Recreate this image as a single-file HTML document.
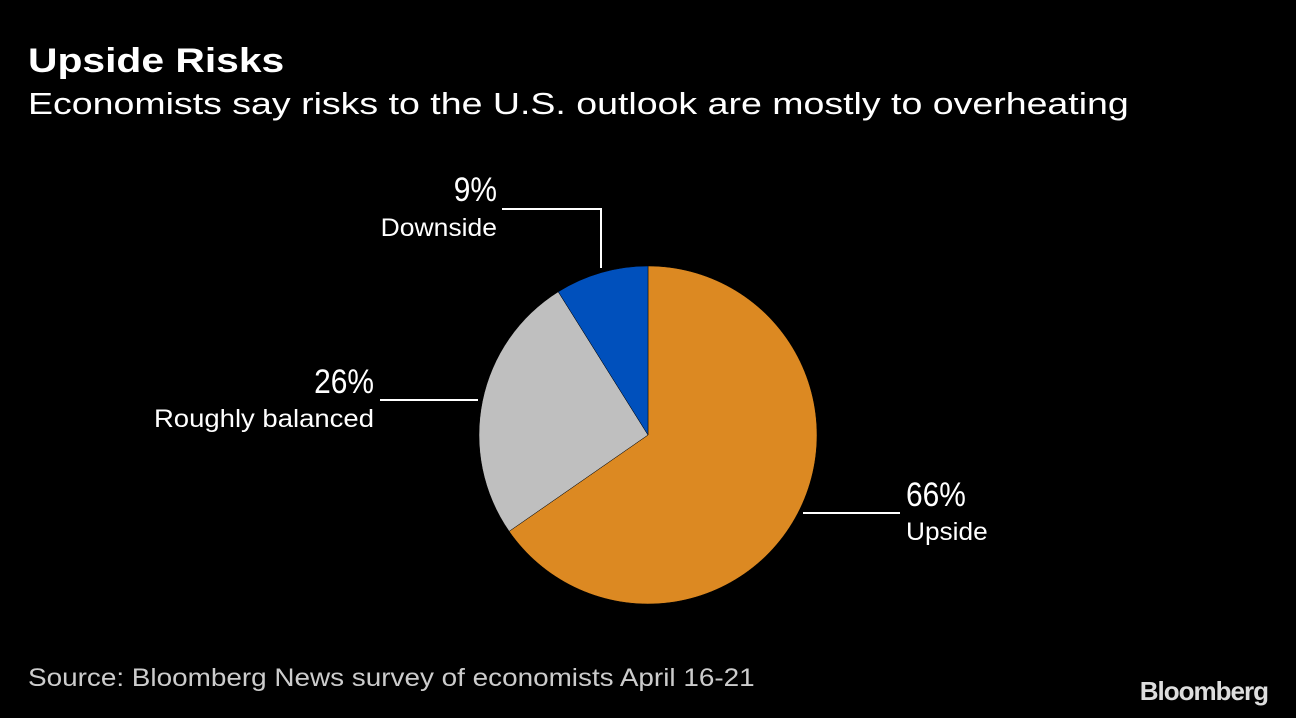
<!DOCTYPE html>
<html><head><meta charset="utf-8">
<style>
body{margin:0;background:#000;width:1296px;height:718px;overflow:hidden;font-family:"Liberation Sans","DejaVu Sans",sans-serif;color:#fff}
.t{position:absolute;left:28px;white-space:nowrap;transform-origin:0 0}
#title{top:42px;font-size:34px;font-weight:bold;transform:scaleX(1.2)}
#sub{top:86px;font-size:31px;transform:scaleX(1.21)}
#src{top:664px;font-size:25px;color:#ccc;transform:scaleX(1.115)}
#logo{position:absolute;right:28px;top:676px;font-size:26px;font-weight:bold;color:#ddd;letter-spacing:-1px}
svg{position:absolute;left:0;top:0}
</style></head><body>
<div id="title" class="t">Upside Risks</div>
<div id="sub" class="t">Economists say risks to the U.S. outlook are mostly to overheating</div>
<svg id="chart" width="1296" height="718"></svg>
<div id="src" class="t">Source: Bloomberg News survey of economists April 16-21</div>
<div id="logo">Bloomberg</div>
<script>
const categories=["Upside","Roughly balanced","Downside"];
const values=[66,26,9];
const colors=["#dc8922","#bfbfbf","#0050bc"];
const cx=648,cy=435,r=169;
const svg=document.getElementById('chart');
const NS="http://www.w3.org/2000/svg";
const total=values.reduce((a,b)=>a+b,0);
function pt(a,rr){return [cx+rr*Math.sin(a),cy-rr*Math.cos(a)];}
let a0=0;
const mids=[];
values.forEach((v,i)=>{
  const a1=a0+v/total*2*Math.PI;
  const p0=pt(a0,r),p1=pt(a1,r);
  const large=(a1-a0)>Math.PI?1:0;
  const p=document.createElementNS(NS,'path');
  p.setAttribute('d',`M${cx},${cy}L${p0[0]},${p0[1]}A${r},${r} 0 ${large} 1 ${p1[0]},${p1[1]}Z`);
  p.setAttribute('fill',colors[i]);
  p.setAttribute('stroke','#000');p.setAttribute('stroke-width','0.5');
  
  
  svg.appendChild(p);
  mids.push((a0+a1)/2);
  a0=a1;
});
function line(pts,name){
  const l=document.createElementNS(NS,'polyline');
  l.setAttribute('points',pts.map(p=>p.join(',')).join(' '));
  l.setAttribute('fill','none');l.setAttribute('stroke','#fff');l.setAttribute('stroke-width','2');
  
  
  svg.appendChild(l);
}
function text(x,y,s,size,anchor,name,sx){
  const t=document.createElementNS(NS,'text');
  t.setAttribute('x',0);t.setAttribute('y',0);t.setAttribute('fill','#fff');
  t.setAttribute('font-size',size);t.setAttribute('text-anchor',anchor);
  t.setAttribute('font-family','"Liberation Sans",sans-serif');
  t.setAttribute('transform',`translate(${x},${y}) scale(${sx},1)`);
  t.textContent=s;
  
  
  svg.appendChild(t);
}
// Upside
let m=pt(mids[0],r);
line([[803,513],[900,513]],'leader-upside');
text(906,506,values[0]+'%',34,'start','value-upside',0.88);
text(906,540,categories[0],25,'start','label-upside',1.05);
// Roughly balanced
line([[478,400],[380,400]],'leader-balanced');
text(374,393,values[1]+'%',34,'end','value-balanced',0.88);
text(374,427,categories[1],25,'end','label-balanced',1.1);
// Downside
m=pt(mids[2],r);
line([[601,268],[601,209],[502,209]],'leader-downside');
text(497,201,values[2]+'%',34,'end','value-downside',0.88);
text(497,236,categories[2],25,'end','label-downside',1.06);
</script>
</body></html>
